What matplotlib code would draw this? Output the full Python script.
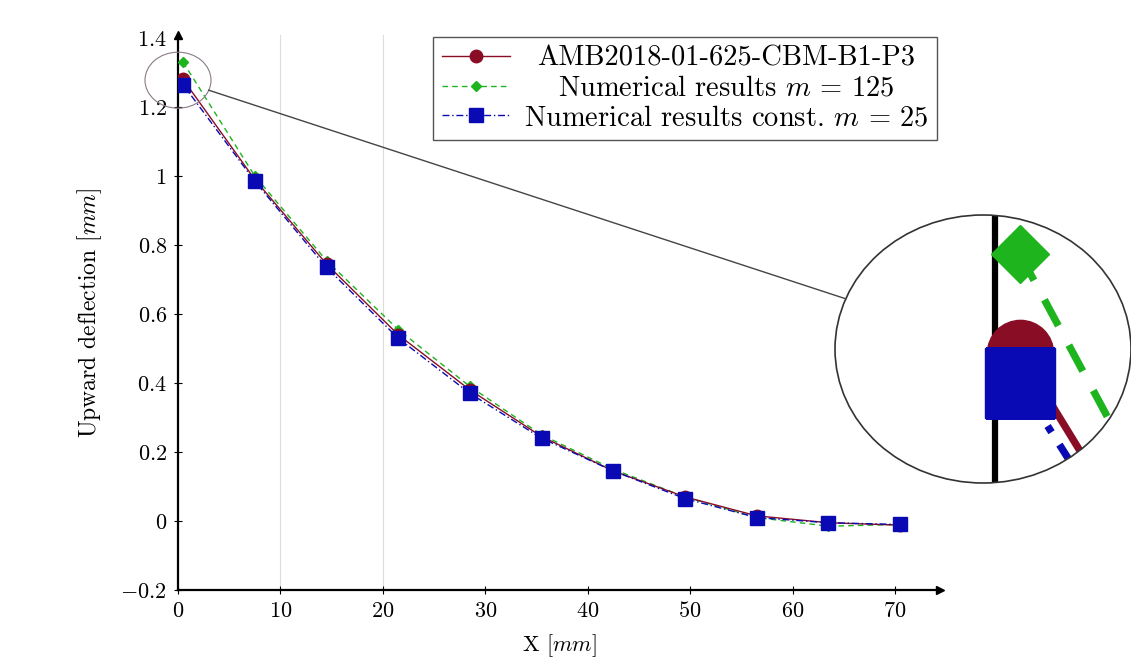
import numpy as np
import matplotlib
matplotlib.use("Agg")
import matplotlib.pyplot as plt
from matplotlib.patches import Ellipse
from matplotlib.lines import Line2D

plt.rcParams['font.family'] = ['cmr10', 'DejaVu Serif']
plt.rcParams['mathtext.fontset'] = 'cm'
plt.rcParams['axes.formatter.use_mathtext'] = True
plt.rcParams['axes.unicode_minus'] = True

# ---------------- data ----------------
x_pos = [0.5, 7.5, 14.5, 21.5, 28.5, 35.5, 42.5, 49.5, 56.5, 63.5, 70.5]
exp_vals = [1.28, 0.99, 0.745, 0.54, 0.38, 0.245, 0.145, 0.07, 0.015, -0.005, -0.012]
num125_vals = [1.33, 1.0, 0.755, 0.555, 0.39, 0.25, 0.15, 0.07, 0.01, -0.015, -0.01]
const25_vals = [1.265, 0.985, 0.735, 0.53, 0.37, 0.24, 0.145, 0.065, 0.01, -0.005, -0.01]

labels = ['AMB2018-01-625-CBM-B1-P3',
          r'Numerical results $m$ = 125',
          r'Numerical results const. $m$ = 25']
xticks = [0, 10, 20, 30, 40, 50, 60, 70]
yticks = [-0.2, 0, 0.2, 0.4, 0.6, 0.8, 1.0, 1.2, 1.4]
grid_x = [10, 20]

c_red = '#8a0d26'
c_green = '#1db41d'
c_blue = '#0a0ab4'

W, H = 1131, 669
fig = plt.figure(figsize=(W / 100, H / 100), dpi=100)
ax = fig.add_axes([178 / W, 1 - 590 / H, (940 - 178) / W, (590 - 35) / H])
ax.set_xlim(0, 74.4)
ax.set_ylim(-0.2, 1.409)

for gx in grid_x:
    ax.axvline(gx, color='#dcdcdc', lw=0.8, zorder=0)

def draw_series(a, k=1.0):
    a.plot(x_pos, num125_vals, color=c_green, ls=(0, (4, 3)), lw=1.0 * k,
           marker='D', ms=5.5 * k, mec=c_green, mfc=c_green, zorder=3,
           label=labels[1])
    a.plot(x_pos, exp_vals, color=c_red, ls='-', lw=1.0 * k,
           marker='o', ms=9 * k, mec=c_red, mfc=c_red, zorder=4,
           label=labels[0])
    a.plot(x_pos, const25_vals, color=c_blue, ls=(0, (5, 2, 1, 2)), lw=1.0 * k,
           marker='s', ms=9.5 * k, mec=c_blue, mfc=c_blue, zorder=5,
           label=labels[2])

draw_series(ax)

for s in ['top', 'right']:
    ax.spines[s].set_visible(False)
for s in ['left', 'bottom']:
    ax.spines[s].set_linewidth(1.6)
ax.plot(1, 0, '>k', ms=6, transform=ax.transAxes, clip_on=False)
ax.plot(0, 1, '^k', ms=6, transform=ax.transAxes, clip_on=False)

ax.set_xticks(xticks)
ax.set_xticklabels([f'${v:g}$' for v in xticks])
ax.set_yticks(yticks)
ax.set_yticklabels([f'${v:g}$' for v in yticks])
ax.tick_params(direction='inout', length=6, width=0.8, labelsize=16, pad=5)
ax.set_xlabel(r'X [$mm$]', fontsize=16, labelpad=8)
ax.set_ylabel(r'Upward deflection [$mm$]', fontsize=17, labelpad=12)

handles, labs = ax.get_legend_handles_labels()
order = [1, 0, 2]
leg = ax.legend([handles[i] for i in order], [labs[i] for i in order],
                loc='upper left', bbox_to_anchor=(433 / W, 1 - 37 / H),
                bbox_transform=fig.transFigure, borderaxespad=0,
                fancybox=False, edgecolor='#555555', fontsize=20.5,
                handlelength=2.4, labelspacing=0.12, borderpad=0.3,
                handletextpad=0.5, framealpha=1)
leg.get_frame().set_linewidth(1.0)

# center the legend texts (like the reference)
fig.canvas.draw()
renderer = fig.canvas.get_renderer()
widths = [t.get_window_extent(renderer).width for t in leg.get_texts()]
wmax = max(widths)
for t, w in zip(leg.get_texts(), widths):
    t.set_x((wmax - w) / 2.0)

# ---------------- spy (magnified) view ----------------
cx, cy = -0.24, 1.282
ins_box = [835 / W, 1 - 483 / H, (1131 - 835) / W, (483 - 215) / H]
ins = fig.add_axes(ins_box)
ins.set_xlim(cx - 2.96, cx + 2.96)
ins.set_ylim(cy - 0.068, cy + 0.068)
ins.axis('off')
ins.patch.set_alpha(0)
clip = Ellipse((0.5, 0.5), 1, 1, transform=ins.transAxes, fc='none', ec='none')
ins.add_patch(clip)
ins.axvline(0, color='black', lw=4.5, zorder=2)
draw_series(ins, k=5.3)
for art in ins.lines:
    art.set_clip_path(clip)
outline = Ellipse((0.5, 0.5), 1, 1, transform=ins.transAxes, fc='none',
                  ec='#333333', lw=1.2, clip_on=False, zorder=10)
ins.add_patch(outline)

# small ellipse on main axes (region that is magnified)
srx, sry = 33 / 10.24, 28 / 345.0
ax.add_patch(Ellipse((0.0, 1.278), 2 * srx, 2 * sry, fc='none', ec='#8a7a88',
                     lw=0.8, clip_on=False, zorder=6))

# connecting line
fig.canvas.draw()
t1 = np.deg2rad(-21)
p1 = ax.transData.transform((0.0 + srx * np.cos(t1), 1.278 + sry * np.sin(t1)))
t2 = np.deg2rad(158)
p2 = ins.transAxes.transform((0.5 + 0.5 * np.cos(t2), 0.5 + 0.5 * np.sin(t2)))
f1 = fig.transFigure.inverted().transform(p1)
f2 = fig.transFigure.inverted().transform(p2)
fig.add_artist(Line2D([f1[0], f2[0]], [f1[1], f2[1]], color='#444444', lw=1.0,
                      transform=fig.transFigure))

fig.savefig('out.png', dpi=100)
